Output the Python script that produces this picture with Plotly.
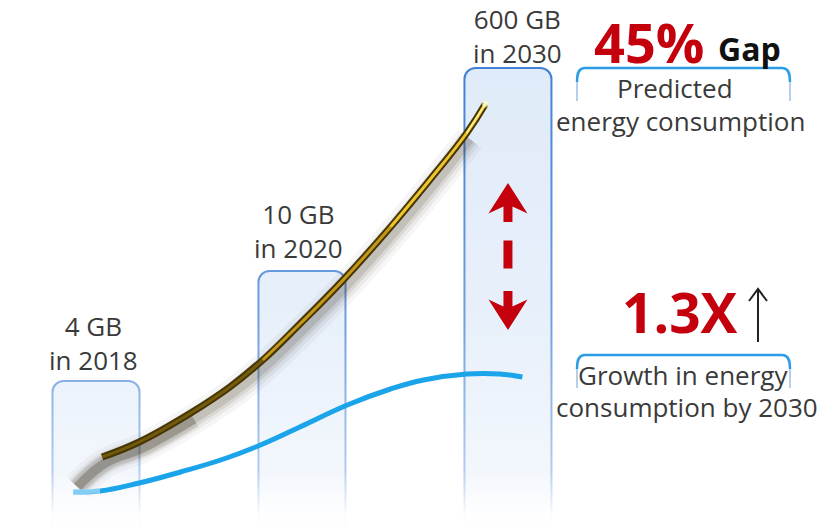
import plotly.graph_objects as go

# ---- data -------------------------------------------------------------
years = ["2018", "2020", "2030"]
data_volume = ["4 GB", "10 GB", "600 GB"]
bar_levels = [150, 260, 463]            # illustrative bar heights

# data-volume growth curve (gold), x in category units
data_curve_x = [0.03, 0.21, 0.46, 0.65, 0.81, 0.99, 1.20, 1.43, 1.62, 1.80, 1.89]
data_curve_y = [74, 89, 118, 144, 171, 207, 251, 304, 351, 398, 427]

# energy consumption curve (blue)
energy_curve_x = [-0.11, 0.02, 0.21, 0.41, 0.62, 0.81, 0.99, 1.22, 1.43, 1.59, 1.80, 1.96, 2.07]
energy_curve_y = [39, 40, 48, 59, 72, 87, 104, 126, 142, 151, 157, 157, 154]

gap_value = "45%"
gap_word = "Gap"
gap_caption = ["Predicted", "energy consumption"]
growth_value = "1.3X"
growth_caption = ["Growth in energy", "consumption by 2030"]

# ---- geometry helpers ---------------------------------------------------
W, H = 833, 531
X_RANGE = [-0.466, 3.578]
Y_RANGE = [0, 531]
UX = (X_RANGE[1] - X_RANGE[0]) / W
UY = (Y_RANGE[1] - Y_RANGE[0]) / H


def fx(px):
    return X_RANGE[0] + px * UX


def fy(py):
    return Y_RANGE[1] - py * UY


def path(points, close=True):
    s = "M " + " L ".join(f"{x:.4f},{y:.4f}" for x, y in points)
    return s + (" Z" if close else "")


FONT = "Open Sans, Noto Sans, sans-serif"
TEXT_COLOR = "#3a3a3a"
RED = "#c3000c"
SMOOTH = 1.2

fig = go.Figure()

# ---- bars -----------------------------------------------------------------
fig.add_trace(go.Bar(
    x=[0, 1, 2], y=bar_levels, width=87 * UX,
    marker=dict(color="#e0ebf9", line=dict(color="#3f7fd6", width=2),
                cornerradius=11),
    hoverinfo="skip", showlegend=False,
))

# white fade toward the bottom of the bars
fig.add_trace(go.Scatter(
    x=[X_RANGE[0], X_RANGE[1], X_RANGE[1], X_RANGE[0]],
    y=[0, 0, 470, 470], fill="toself", mode="none",
    fillgradient=dict(
        type="vertical", start=0, stop=470,
        colorscale=[[0, "rgba(255,255,255,1)"],
                    [0.035, "rgba(255,255,255,0.97)"],
                    [0.13, "rgba(255,255,255,0.6)"],
                    [0.45, "rgba(255,255,255,0.25)"],
                    [1, "rgba(255,255,255,0)"]]),
    hoverinfo="skip", showlegend=False,
))

# ---- gold data-volume curve with blurred shadow ---------------------------
shadow_x = [data_curve_x[0] - 0.12] + [x + 0.015 for x in data_curve_x[:-1]]
shadow_y = [data_curve_y[0] - 30] + [y - 6 for y in data_curve_y[:-1]]
for w, a in [(30, 0.04), (22, 0.06), (15, 0.09), (9, 0.13)]:
    fig.add_trace(go.Scatter(
        x=shadow_x, y=shadow_y, mode="lines",
        line=dict(color=f"rgba(45,35,15,{a})", width=w, shape="spline",
                  smoothing=SMOOTH),
        hoverinfo="skip", showlegend=False))
# heavier smear where the stroke begins
for w, a in [(18, 0.10), (10, 0.16)]:
    fig.add_trace(go.Scatter(
        x=shadow_x[:4], y=shadow_y[:4], mode="lines",
        line=dict(color=f"rgba(40,30,10,{a})", width=w, shape="spline",
                  smoothing=SMOOTH),
        hoverinfo="skip", showlegend=False))

fig.add_trace(go.Scatter(
    x=data_curve_x, y=data_curve_y, mode="lines",
    line=dict(color="#463605", width=7, shape="spline", smoothing=SMOOTH),
    hoverinfo="skip", showlegend=False))
for lo, hi, col in [(0, 5, "#735a0c"), (4, 8, "#c69818"), (7, 11, "#efc52c")]:
    fig.add_trace(go.Scatter(
        x=data_curve_x[lo:hi], y=data_curve_y[lo:hi], mode="lines",
        line=dict(color=col, width=3, shape="spline", smoothing=SMOOTH),
        hoverinfo="skip", showlegend=False))
fig.add_trace(go.Scatter(
    x=data_curve_x[-2:], y=data_curve_y[-2:], mode="lines+markers",
    line=dict(color="rgba(255,246,170,0.9)", width=1.5),
    marker=dict(size=[0, 6], color="rgba(255,255,230,0.95)"),
    hoverinfo="skip", showlegend=False))

# ---- blue energy curve ----------------------------------------------------
fig.add_trace(go.Scatter(
    x=energy_curve_x, y=energy_curve_y, mode="lines",
    line=dict(color="#1ba4ea", width=5, shape="spline", smoothing=SMOOTH),
    hoverinfo="skip", showlegend=False))
fig.add_trace(go.Scatter(
    x=energy_curve_x[:2], y=energy_curve_y[:2], mode="lines",
    line=dict(color="rgba(255,255,255,0.45)", width=5),
    hoverinfo="skip", showlegend=False))
fig.add_trace(go.Scatter(
    x=energy_curve_x[-2:], y=energy_curve_y[-2:], mode="markers",
    marker=dict(symbol="arrow", angleref="previous", size=[0, 8],
                color="#1ba4ea", line=dict(width=0)),
    hoverinfo="skip", showlegend=False))

shapes = []

# ---- red gap arrows on the 2030 bar ----------------------------------------
cx, cy = 2, fy(256.5)


def rel(pts):
    return [(cx + dx * UX, cy + dy * UY) for dx, dy in pts]


up_arrow = [(0, 73.5), (19.5, 43), (4.5, 50), (4.5, 34.5),
            (-4.5, 34.5), (-4.5, 50), (-19.5, 43)]
down_arrow = [(dx, -dy) for dx, dy in up_arrow]
dash = [(-4.5, 16), (4.5, 16), (4.5, -12), (-4.5, -12)]
for shape_pts in (up_arrow, dash, down_arrow):
    shapes.append(dict(type="path", path=path(rel(shape_pts)),
                       fillcolor=RED, line=dict(width=0), layer="above"))

# ---- rounded caption frames -------------------------------------------------
for top, bottom in [(68, 101), (355, 388)]:
    l, r, rad = 577, 790, 8
    side = ("M {:.4f},{:.4f} L {:.4f},{:.4f} Q {:.4f},{:.4f} {:.4f},{:.4f} "
            "L {:.4f},{:.4f} Q {:.4f},{:.4f} {:.4f},{:.4f} L {:.4f},{:.4f}").format(
        fx(l), fy(bottom), fx(l), fy(top + rad), fx(l), fy(top), fx(l + rad), fy(top),
        fx(r - rad), fy(top), fx(r), fy(top), fx(r), fy(top + rad), fx(r), fy(bottom))
    shapes.append(dict(type="path", path=side,
                       line=dict(color="rgba(120,170,225,0.55)", width=2)))
    topline = ("M {:.4f},{:.4f} Q {:.4f},{:.4f} {:.4f},{:.4f} "
               "L {:.4f},{:.4f} Q {:.4f},{:.4f} {:.4f},{:.4f}").format(
        fx(l), fy(top + rad + 6), fx(l), fy(top), fx(l + rad), fy(top),
        fx(r - rad), fy(top), fx(r), fy(top), fx(r), fy(top + rad + 6))
    shapes.append(dict(type="path", path=topline,
                       line=dict(color="#2a9de6", width=2.5)))

# thin upward arrow beside the growth figure
shapes.append(dict(type="path",
                   path=path([(fx(758), fy(342)), (fx(758), fy(290))], close=False),
                   line=dict(color="#222222", width=2)))
shapes.append(dict(type="path",
                   path=path([(fx(749), fy(301)), (fx(758), fy(289)),
                              (fx(767), fy(301))], close=False),
                   line=dict(color="#222222", width=2)))

# ---- text -------------------------------------------------------------------
annotations = []
label_shift = [(-2, 1), (-3, 3), (10, -5)]
for i, (vol, yr, lvl) in enumerate(zip(data_volume, years, bar_levels)):
    xs, ys = label_shift[i]
    annotations.append(dict(
        x=i, y=lvl, yanchor="bottom", xanchor="center",
        xshift=xs, yshift=ys,
        text=f"{vol}<br>in {yr}", showarrow=False,
        font=dict(family=FONT, size=26, color=TEXT_COLOR)))

annotations += [
    dict(x=fx(592), y=fy(42), xanchor="left", yanchor="middle",
         text=f"<b>{gap_value}</b>", showarrow=False,
         font=dict(family=FONT, size=54, color=RED)),
    dict(x=fx(716), y=fy(48), xanchor="left", yanchor="middle",
         text=f"<b>{gap_word}</b>", showarrow=False,
         font=dict(family=FONT, size=32, color="#111111")),
    dict(x=fx(675), y=fy(88), text=gap_caption[0], showarrow=False,
         font=dict(family=FONT, size=26, color=TEXT_COLOR)),
    dict(x=fx(680), y=fy(121), text=gap_caption[1], showarrow=False,
         font=dict(family=FONT, size=26, color=TEXT_COLOR)),
    dict(x=fx(680), y=fy(311), text=f"<b>{growth_value}</b>", showarrow=False,
         font=dict(family=FONT, size=55, color=RED)),
    dict(x=fx(683), y=fy(375), text=growth_caption[0], showarrow=False,
         font=dict(family=FONT, size=26, color=TEXT_COLOR)),
    dict(x=fx(687), y=fy(407), text=growth_caption[1], showarrow=False,
         font=dict(family=FONT, size=26, color=TEXT_COLOR)),
]

fig.update_layout(
    width=W, height=H, margin=dict(l=0, r=0, t=0, b=0),
    paper_bgcolor="white", plot_bgcolor="white",
    xaxis=dict(range=X_RANGE, visible=False, fixedrange=True),
    yaxis=dict(range=Y_RANGE, visible=False, fixedrange=True),
    shapes=shapes, annotations=annotations, showlegend=False,
)

fig.write_html("out.html")
